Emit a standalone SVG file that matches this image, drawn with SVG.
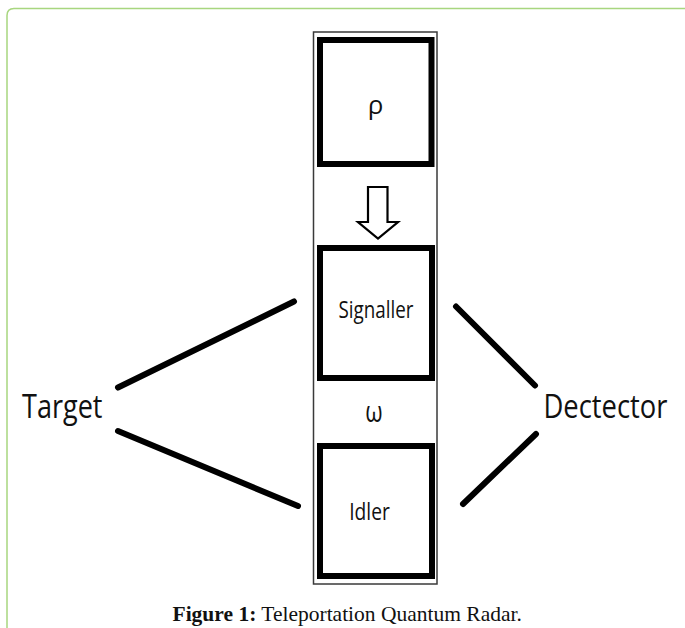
<svg xmlns="http://www.w3.org/2000/svg" width="685" height="628" viewBox="0 0 685 628">
  <style>
    .box { fill: #ffffff; stroke: #000000; stroke-width: 6; }
    .lbl { font-family: "Open Sans", "DejaVu Sans", sans-serif; fill: #111111; text-anchor: middle; }
    .side { font-family: "Open Sans", "DejaVu Sans", sans-serif; fill: #111111; }
    .link { stroke: #000000; stroke-width: 6; stroke-linecap: round; fill: none; }
    .cap { font-family: "Liberation Serif", "Times New Roman", serif; font-size: 21.5px; fill: #111111; }
  </style>
  <rect x="0" y="0" width="685" height="628" fill="#ffffff"/>
  <path d="M7 640 L7 15.5 Q7 8.5 14 8.5 L700 8.5" fill="none" stroke="#a8d67f" stroke-width="1.5"/>
  <g id="container">
    <rect x="313.5" y="32" width="123.5" height="552" fill="#ffffff" stroke="#3a3a3a" stroke-width="1.5"/>
  </g>
  <g id="rho">
    <rect class="box" x="320" y="40" width="111.5" height="124"/>
    <text class="lbl" x="375.5" y="114" font-size="26">ρ</text>
  </g>
  <g id="arrow">
    <path d="M368 187 L387.5 187 L387.5 222 L398 222 L378 238.5 L358 222 L368 222 Z" fill="#ffffff" stroke="#000000" stroke-width="2.2" stroke-linejoin="miter"/>
  </g>
  <g id="signaller">
    <rect class="box" x="320" y="248" width="112" height="130"/>
    <text class="lbl" transform="translate(376 317.5) scale(0.8 1)" x="0" y="0" font-size="23.5">Signaller</text>
  </g>
  <g id="omega">
    <text class="lbl" transform="translate(374 421.5) scale(0.75 1)" x="0" y="0" font-size="30">ω</text>
  </g>
  <g id="idler">
    <rect class="box" x="320" y="446" width="112" height="130"/>
    <text class="lbl" transform="translate(369.5 520) scale(0.8 1)" x="0" y="0" font-size="24">Idler</text>
  </g>
  <g id="target">
    <text class="side" transform="translate(22 417.5) scale(0.82 1)" x="0" y="0" font-size="33">Target</text>
  </g>
  <g id="detector">
    <text class="side" transform="translate(543.5 417.5) scale(0.83 1)" x="0" y="0" font-size="33">Dectector</text>
  </g>
  <g id="connectors">
    <line class="link" x1="118" y1="387.5" x2="294" y2="301.5"/>
    <line class="link" x1="118" y1="431" x2="298" y2="506"/>
    <line class="link" x1="456" y1="306.5" x2="535" y2="385.5"/>
    <line class="link" x1="536" y1="434" x2="463" y2="504"/>
  </g>
  <g id="caption">
    <text class="cap" x="172.5" y="621"><tspan font-weight="bold">Figure 1:</tspan> Teleportation Quantum Radar.</text>
  </g>
</svg>
